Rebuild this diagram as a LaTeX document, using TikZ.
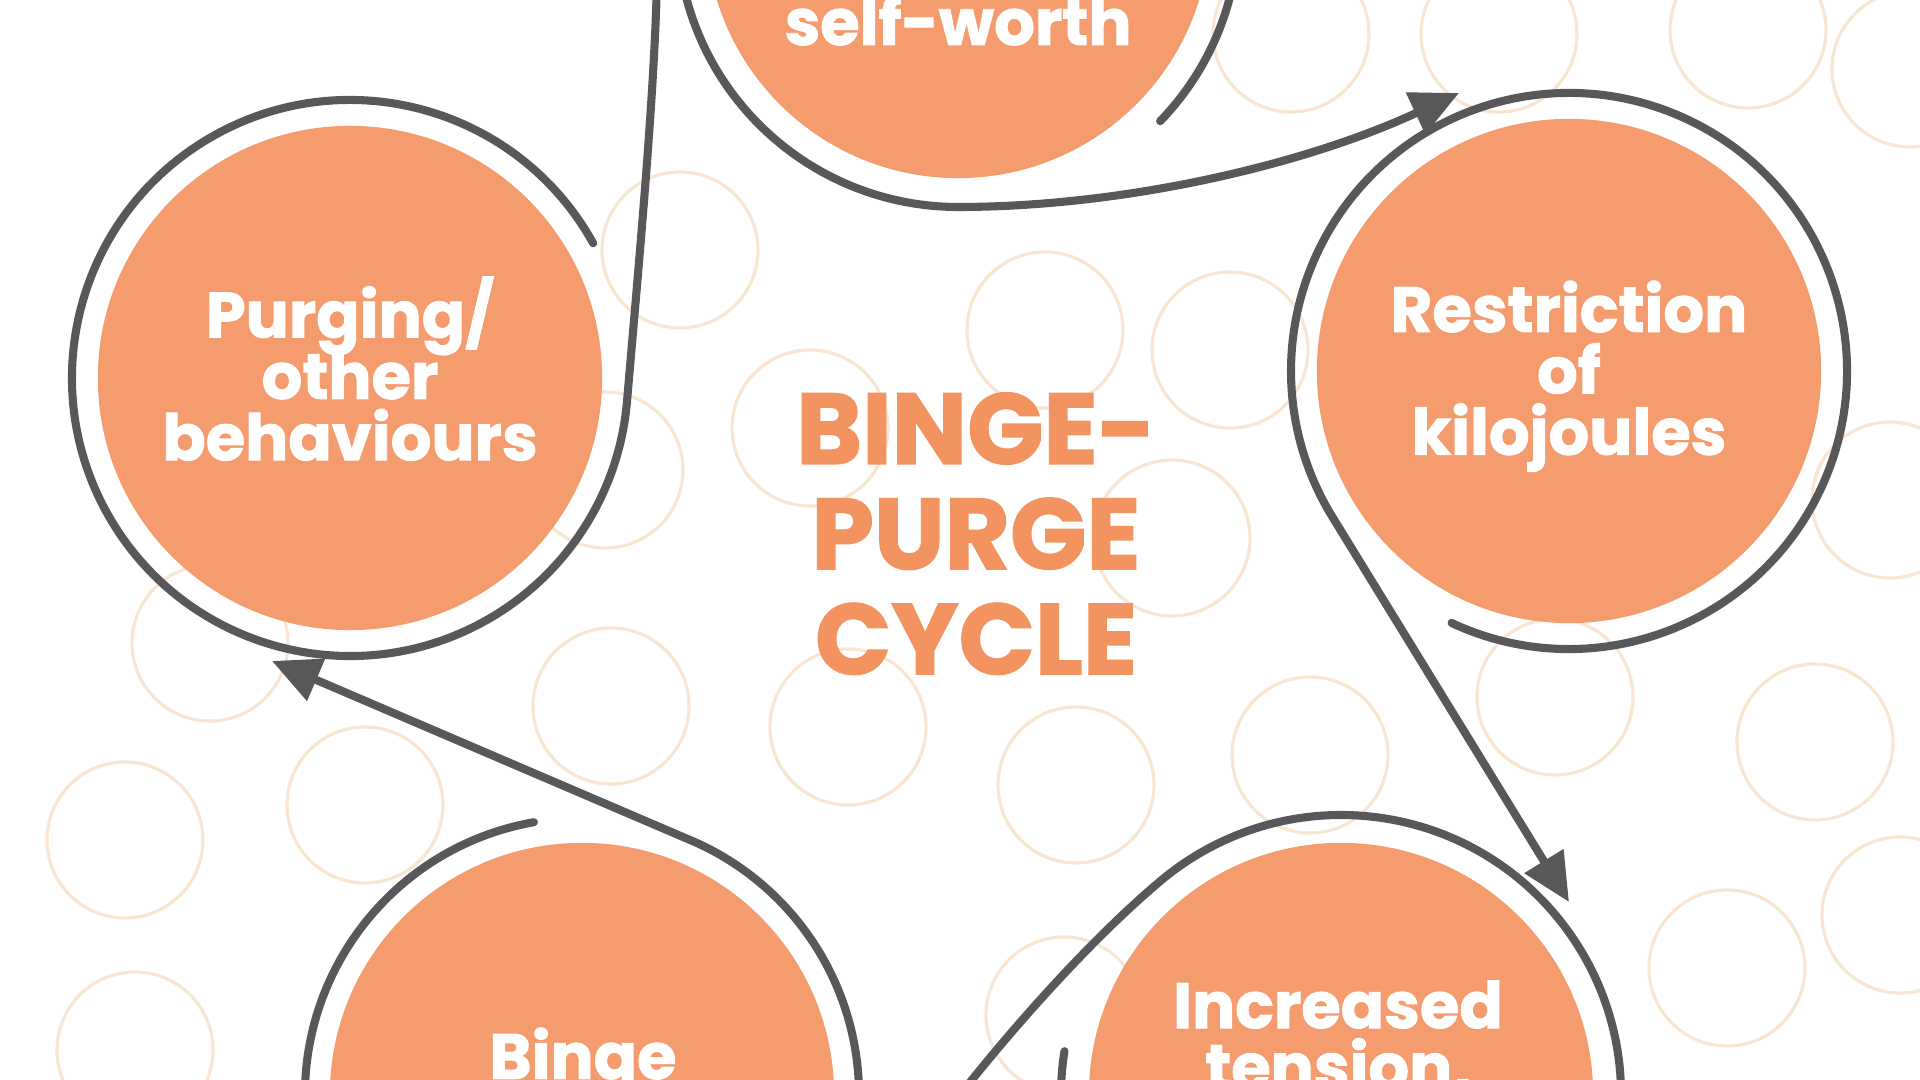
\documentclass[tikz,border=0pt]{standalone}
\usepackage{fontspec}
\setmainfont{Poppins}[BoldFeatures={FakeBold=1.5}]
\usepackage{xcolor}
\usepackage{tikz}
\usetikzlibrary{arrows.meta}

\definecolor{diskorange}{HTML}{F59C6E}
\definecolor{titleorange}{HTML}{F39360}
\definecolor{ringgray}{HTML}{58585A}
\definecolor{loopbeige}{HTML}{F8E6D3}
\newcommand\tightlines{\setlength{\lineskiplimit}{-50pt}}

\begin{document}
\begin{tikzpicture}[x=0.01cm,y=-0.01cm,
	disk/.style={circle,fill=diskorange,inner sep=0pt,minimum size=5.04cm},
	ring/.style={draw=ringgray,line width=2.3pt,line cap=round},
	arrowring/.style={ring,-{Triangle[length=0.48cm,width=0.44cm]}},
	bgloop/.style={draw=loopbeige,line width=0.9pt},
	disklabel/.style={align=center,text=white,inner sep=0pt,font={\fontsize{18.2}{17.45}\selectfont\bfseries\tightlines}},
	titlelabel/.style={align=center,text=titleorange,inner sep=0pt,font={\fontsize{28.5}{29.9}\selectfont\bfseries\tightlines}}]

\useasboundingbox (0,0) rectangle (1920,1080);
\fill [white] (0,0) rectangle (1920,1080);

\foreach \cx/\cy in {680/250,1045/330,1230/350,810/428,605/470,1172/538,611/706,848/727,1076/785,1310/755,1555/697,1815/742,1727/968,1900/915,210/643,125/840,365/805,135/1050,1291/34,1499/34,1748/30,1910/69,1890/500,1064/1015}
	\draw [bgloop] (\cx,\cy) circle [radius=78];

\node (self_worth)	at (958,-74)	[disk] {};
\node (restriction)	at (1569,371)	[disk] {};
\node (tension)		at (1341,1095)	[disk] {};
\node (binge)		at (582,1095)	[disk] {};
\node (purging)		at (350,378)	[disk] {};

\node (self_worth_label)	at (958,45)	[disklabel,anchor=base] {self-worth};
\node (restriction_label)	at (1569,280)	[disklabel,anchor=north] {Restriction\\of\\kilojoules};
\node (tension_label)		at (1338,980)	[disklabel,anchor=north] {Increased\\tension,};
\node (binge_label)		at (583,1027)	[disklabel,anchor=north] {Binge};
\node (purging_label)		at (350,276)	[disklabel,anchor=north] {Purging/\\other\\behaviours};
\node (cycle_title)		at (976,392)	[titlelabel,anchor=north] {BINGE-\\PURGE\\CYCLE};

\coordinate (restriction_in)	at (1459,93);
\coordinate (tension_in)	at (1569,902);
\coordinate (binge_in)		at (900,1180);
\coordinate (purging_in)	at (272,661);
\coordinate (self_worth_in)	at (658,-60);

\draw [arrowring] (self_worth.center) ++(44:281) arc [start angle=44,end angle=-270,radius=281] .. controls +(170,0) and +(-150,70) .. (restriction_in);
\draw [arrowring] (restriction.center) ++(115:278) arc [start angle=115,end angle=-211.6,radius=278] -- (tension_in);
\draw [arrowring] (tension.center) ++(-171:280) arc [start angle=-171,end angle=-490,radius=280] .. controls +(-92,77) and +(60,-90) .. (binge_in);
\draw [arrowring] (binge.center) ++(-100:277) arc [start angle=-100,end angle=-428,radius=277] -- (purging_in);
\draw [arrowring] (purging.center) ++(-29:278) arc [start angle=-29,end angle=-355,radius=278] .. controls +(12,-140) and +(-4,160) .. (self_worth_in);

\end{tikzpicture}
\end{document}
